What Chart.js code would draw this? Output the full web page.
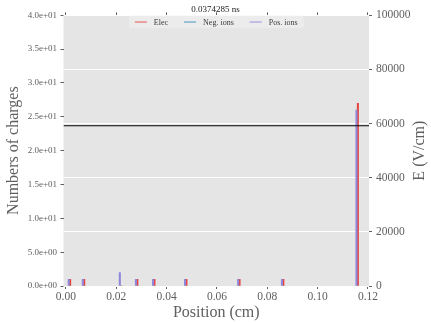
<!DOCTYPE html>
<html>
<head>
<meta charset="utf-8">
<script src="https://cdn.jsdelivr.net/npm/chart.js@4/dist/chart.umd.min.js"></script>
<style>
  html, body { margin: 0; padding: 0; background: #fff; }
  #wrap { width: 431px; height: 323px; }
</style>
</head>
<body>
<div id="wrap"><canvas id="charges" width="431" height="323"></canvas></div>
<script>
const SERIF = '"Liberation Serif", "DejaVu Serif", serif';
const LABEL_GREY = '#606060';

// cell positions (cm) with charge counts per species
const positions = [0.0014, 0.0070, 0.0217, 0.0281, 0.0349, 0.0476, 0.0687, 0.0861, 0.1157];
const elecCounts = [1, 1, 0, 1, 1, 1, 1, 1, 27];
const negIonCounts = [0, 0, 0, 0, 0, 0, 0, 0, 0];
const posIonCounts = [1, 1, 2, 1, 1, 1, 1, 1, 26];

// electric field across the gap (V/cm)
const fieldPositions = [-0.00095, 0.1204];
const fieldValues = [59200, 59200];

const xTickLabels = ['0.00', '0.02', '0.04', '0.06', '0.08', '0.10', '0.12'];
const chargeTickLabels = ['0.0e+00', '5.0e+00', '1.0e+01', '1.5e+01', '2.0e+01',
                          '2.5e+01', '3.0e+01', '3.5e+01', '4.0e+01'];
const fieldTickLabels = ['0', '20000', '40000', '60000', '80000', '100000'];

const X_MIN = -0.00095, X_MAX = 0.1204;

const RED = '#E5463C';
const BLUE = '#348ABD';
const PURPLE = '#8E87DA';

const toPoints = (xs, ys) => xs.map((x, i) => ({ x: x, y: ys[i] }));

// legend drawn inside the plot, top centre
const insideLegend = {
  id: 'insideLegend',
  afterDraw(chart) {
    const { ctx, chartArea } = chart;
    const items = chart.data.datasets.filter(d => d.type === 'bar');
    ctx.save();
    ctx.font = '8px ' + SERIF;
    const handle = 12, gap = 7, spacing = 16, pad = 6, h = 12.5;
    const widths = items.map(d => ctx.measureText(d.label).width);
    let total = pad * 2 + spacing * (items.length - 1);
    widths.forEach(w => { total += handle + gap + w; });
    const left = (chartArea.left + chartArea.right) / 2 - total / 2;
    const top = chartArea.top + 0.5;
    ctx.fillStyle = '#ECECEC';
    ctx.beginPath();
    ctx.roundRect(left, top, total, h, 2);
    ctx.fill();
    const cy = top + h / 2;
    let x = left + pad;
    items.forEach((d, i) => {
      ctx.globalAlpha = 0.6;
      ctx.strokeStyle = d.backgroundColor;
      ctx.lineWidth = 1.5;
      ctx.beginPath();
      ctx.moveTo(x, cy);
      ctx.lineTo(x + handle, cy);
      ctx.stroke();
      ctx.globalAlpha = 1;
      ctx.fillStyle = '#3a3a3a';
      ctx.textBaseline = 'middle';
      ctx.fillText(d.label, x + handle + gap, cy + 0.5);
      x += handle + gap + widths[i] + spacing;
    });

    // right axis title, reading bottom to top
    ctx.translate(420, (chartArea.top + chartArea.bottom) / 2);
    ctx.rotate(-Math.PI / 2);
    ctx.font = '16px ' + SERIF;
    ctx.fillStyle = LABEL_GREY;
    ctx.textAlign = 'center';
    ctx.textBaseline = 'middle';
    ctx.fillText('E (V/cm)', 0, 0);
    ctx.restore();
  }
};

const tickMarks = { display: true, drawOnChartArea: false, drawTicks: true, tickLength: 3, tickColor: LABEL_GREY };

new Chart(document.getElementById('charges'), {
  type: 'bar',
  data: {
    datasets: [{
      type: 'bar',
      label: 'Elec',
      data: toPoints(positions, elecCounts),
      backgroundColor: RED,
      barThickness: 1.4,
      yAxisID: 'y',
      order: 2
    }, {
      type: 'bar',
      label: 'Neg. ions',
      data: toPoints(positions, negIonCounts),
      backgroundColor: BLUE,
      barThickness: 1.4,
      grouped: false,
      yAxisID: 'y',
      order: 3
    }, {
      type: 'bar',
      label: 'Pos. ions',
      data: toPoints(positions, posIonCounts),
      backgroundColor: PURPLE,
      barThickness: 1.4,
      yAxisID: 'y',
      order: 1
    }, {
      type: 'line',
      label: 'E',
      data: toPoints(fieldPositions, fieldValues),
      borderColor: '#000',
      borderWidth: 1.2,
      pointRadius: 0,
      yAxisID: 'y2',
      order: 0
    }]
  },
  options: {
    responsive: false,
    animation: false,
    devicePixelRatio: 1,
    layout: { padding: 0 },
    plugins: {
      legend: { display: false },
      tooltip: { enabled: false },
      title: {
        display: true,
        text: '0.0374285 ns',
        color: '#222',
        font: { family: SERIF, size: 9, weight: 'normal' },
        padding: { top: 4.5, bottom: 0 }
      }
    },
    scales: {
      x: {
        type: 'linear',
        position: 'bottom',
        min: X_MIN,
        max: X_MAX,
        offset: false,
        grid: Object.assign({ offset: false }, tickMarks),
        border: { display: false },
        ticks: {
          stepSize: 0.02,
          includeBounds: false,
          maxRotation: 0,
          autoSkip: false,
          padding: 1,
          color: LABEL_GREY,
          font: { family: SERIF, size: 11.5 },
          callback: (v, i) => xTickLabels[i] !== undefined ? xTickLabels[i] : v.toFixed(2)
        },
        title: {
          display: true,
          text: 'Position (cm)',
          color: LABEL_GREY,
          font: { family: SERIF, size: 16 },
          padding: { top: 0, bottom: 0.5 }
        },
        afterFit: s => { s.height = 37; }
      },
      xTop: {
        type: 'linear',
        position: 'top',
        min: X_MIN,
        max: X_MAX,
        offset: false,
        grid: Object.assign({ offset: false }, tickMarks),
        border: { display: false },
        ticks: { display: false, stepSize: 0.02, includeBounds: false },
        afterFit: s => { s.height = 0; }
      },
      y: {
        position: 'left',
        min: 0,
        max: 40,
        grid: tickMarks,
        border: { display: false },
        ticks: {
          stepSize: 5,
          padding: 3.5,
          color: LABEL_GREY,
          font: { family: SERIF, size: 9 },
          callback: (v, i) => chargeTickLabels[i]
        },
        title: {
          display: true,
          text: 'Numbers of charges',
          color: LABEL_GREY,
          font: { family: SERIF, size: 16 },
          padding: { top: 4.5, bottom: 0 }
        },
        afterFit: s => { s.width = 63.5; }
      },
      y2: {
        position: 'right',
        min: 0,
        max: 100000,
        grid: {
          display: true,
          drawOnChartArea: true,
          color: '#ffffff',
          lineWidth: 1,
          drawTicks: true,
          tickLength: 3,
          tickColor: LABEL_GREY
        },
        border: { display: false },
        ticks: {
          stepSize: 20000,
          padding: 4,
          color: LABEL_GREY,
          font: { family: SERIF, size: 11.5 },
          callback: (v, i) => fieldTickLabels[i]
        },
        afterFit: s => { s.width = 62; }
      }
    }
  },
  plugins: [insideLegend, {
    id: 'panelBackground',
    beforeDraw(chart) {
      const { ctx, chartArea: a } = chart;
      ctx.save();
      ctx.fillStyle = '#E5E5E5';
      ctx.fillRect(a.left, a.top, a.right - a.left, a.bottom - a.top);
      ctx.restore();
    }
  }]
});
</script>
</body>
</html>
